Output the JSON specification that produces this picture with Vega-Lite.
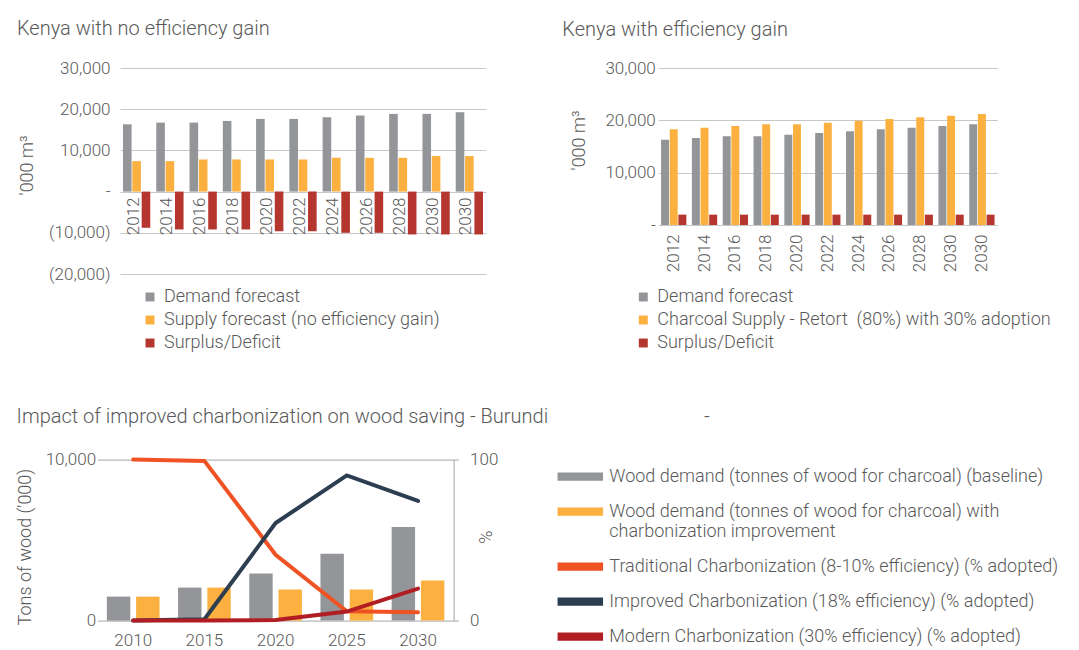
{
  "$schema": "https://vega.github.io/schema/vega-lite/v6.json",
  "background": "white",
  "padding": {"left": 16, "top": 19, "right": 5, "bottom": 5},
  "config": {
    "font": "Roboto",
    "view": {"stroke": null},
    "axis": {"labelFontSize": 17, "labelColor": "#595959", "labelFontWeight": 300, "titleColor": "#595959", "titleFontWeight": 300, "titleFontSize": 18, "gridColor": "#C8C8C8", "domainColor": "#A6A6A6", "tickColor": "#A6A6A6"},
    "legend": {"labelFontSize": 18, "labelColor": "#595959", "labelFontWeight": 300, "labelLimit": 600, "padding": 0},
    "title": {"fontSize": 20, "fontWeight": 300, "color": "#595959", "anchor": "start", "frame": "group", "baseline": "alphabetic"}
  },
  "datasets": {
    "kenyaNo": [
      {"year": "2012", "seriesA": "Demand forecast", "value": 16340},
      {"year": "2012", "seriesA": "Supply forecast (no efficiency gain)", "value": 7400},
      {"year": "2012", "seriesA": "Surplus/Deficit", "value": -8780},
      {"year": "2014", "seriesA": "Demand forecast", "value": 16750},
      {"year": "2014", "seriesA": "Supply forecast (no efficiency gain)", "value": 7400},
      {"year": "2014", "seriesA": "Surplus/Deficit", "value": -9190},
      {"year": "2016", "seriesA": "Demand forecast", "value": 16750},
      {"year": "2016", "seriesA": "Supply forecast (no efficiency gain)", "value": 7800},
      {"year": "2016", "seriesA": "Surplus/Deficit", "value": -9190},
      {"year": "2018", "seriesA": "Demand forecast", "value": 17150},
      {"year": "2018", "seriesA": "Supply forecast (no efficiency gain)", "value": 7800},
      {"year": "2018", "seriesA": "Surplus/Deficit", "value": -9190},
      {"year": "2020", "seriesA": "Demand forecast", "value": 17640},
      {"year": "2020", "seriesA": "Supply forecast (no efficiency gain)", "value": 7800},
      {"year": "2020", "seriesA": "Surplus/Deficit", "value": -9600},
      {"year": "2022", "seriesA": "Demand forecast", "value": 17640},
      {"year": "2022", "seriesA": "Supply forecast (no efficiency gain)", "value": 7800},
      {"year": "2022", "seriesA": "Surplus/Deficit", "value": -9600},
      {"year": "2024", "seriesA": "Demand forecast", "value": 18050},
      {"year": "2024", "seriesA": "Supply forecast (no efficiency gain)", "value": 8200},
      {"year": "2024", "seriesA": "Surplus/Deficit", "value": -10000},
      {"year": "2026", "seriesA": "Demand forecast", "value": 18450},
      {"year": "2026", "seriesA": "Supply forecast (no efficiency gain)", "value": 8200},
      {"year": "2026", "seriesA": "Surplus/Deficit", "value": -10000},
      {"year": "2028", "seriesA": "Demand forecast", "value": 18860},
      {"year": "2028", "seriesA": "Supply forecast (no efficiency gain)", "value": 8200},
      {"year": "2028", "seriesA": "Surplus/Deficit", "value": -10400},
      {"year": "2030", "seriesA": "Demand forecast", "value": 18860},
      {"year": "2030", "seriesA": "Supply forecast (no efficiency gain)", "value": 8620},
      {"year": "2030", "seriesA": "Surplus/Deficit", "value": -10400},
      {"year": "2030b", "seriesA": "Demand forecast", "value": 19270},
      {"year": "2030b", "seriesA": "Supply forecast (no efficiency gain)", "value": 8620},
      {"year": "2030b", "seriesA": "Surplus/Deficit", "value": -10400}
    ],
    "kenyaEff": [
      {"year": "2012", "seriesB": "Demand forecast", "value": 16300},
      {"year": "2012", "seriesB": "Charcoal Supply - Retort  (80%) with 30% adoption", "value": 18280},
      {"year": "2012", "seriesB": "Surplus/Deficit", "value": 1980},
      {"year": "2014", "seriesB": "Demand forecast", "value": 16620},
      {"year": "2014", "seriesB": "Charcoal Supply - Retort  (80%) with 30% adoption", "value": 18600},
      {"year": "2014", "seriesB": "Surplus/Deficit", "value": 1980},
      {"year": "2016", "seriesB": "Demand forecast", "value": 16940},
      {"year": "2016", "seriesB": "Charcoal Supply - Retort  (80%) with 30% adoption", "value": 18920},
      {"year": "2016", "seriesB": "Surplus/Deficit", "value": 1980},
      {"year": "2018", "seriesB": "Demand forecast", "value": 16940},
      {"year": "2018", "seriesB": "Charcoal Supply - Retort  (80%) with 30% adoption", "value": 19240},
      {"year": "2018", "seriesB": "Surplus/Deficit", "value": 1980},
      {"year": "2020", "seriesB": "Demand forecast", "value": 17260},
      {"year": "2020", "seriesB": "Charcoal Supply - Retort  (80%) with 30% adoption", "value": 19240},
      {"year": "2020", "seriesB": "Surplus/Deficit", "value": 1980},
      {"year": "2022", "seriesB": "Demand forecast", "value": 17580},
      {"year": "2022", "seriesB": "Charcoal Supply - Retort  (80%) with 30% adoption", "value": 19550},
      {"year": "2022", "seriesB": "Surplus/Deficit", "value": 1980},
      {"year": "2024", "seriesB": "Demand forecast", "value": 17900},
      {"year": "2024", "seriesB": "Charcoal Supply - Retort  (80%) with 30% adoption", "value": 19940},
      {"year": "2024", "seriesB": "Surplus/Deficit", "value": 1980},
      {"year": "2026", "seriesB": "Demand forecast", "value": 18280},
      {"year": "2026", "seriesB": "Charcoal Supply - Retort  (80%) with 30% adoption", "value": 20250},
      {"year": "2026", "seriesB": "Surplus/Deficit", "value": 1980},
      {"year": "2028", "seriesB": "Demand forecast", "value": 18600},
      {"year": "2028", "seriesB": "Charcoal Supply - Retort  (80%) with 30% adoption", "value": 20570},
      {"year": "2028", "seriesB": "Surplus/Deficit", "value": 1980},
      {"year": "2030", "seriesB": "Demand forecast", "value": 18920},
      {"year": "2030", "seriesB": "Charcoal Supply - Retort  (80%) with 30% adoption", "value": 20890},
      {"year": "2030", "seriesB": "Surplus/Deficit", "value": 1980},
      {"year": "2030b", "seriesB": "Demand forecast", "value": 19240},
      {"year": "2030b", "seriesB": "Charcoal Supply - Retort  (80%) with 30% adoption", "value": 21210},
      {"year": "2030b", "seriesB": "Surplus/Deficit", "value": 1980}
    ],
    "burundiBars": [
      {"year": "2010", "seriesC": "Wood demand (tonnes of wood for charcoal) (baseline)", "tons": 1490},
      {"year": "2010", "seriesC": "Wood demand (tonnes of wood for charcoal) with charbonization improvement", "tons": 1490},
      {"year": "2015", "seriesC": "Wood demand (tonnes of wood for charcoal) (baseline)", "tons": 2050},
      {"year": "2015", "seriesC": "Wood demand (tonnes of wood for charcoal) with charbonization improvement", "tons": 2050},
      {"year": "2020", "seriesC": "Wood demand (tonnes of wood for charcoal) (baseline)", "tons": 2925},
      {"year": "2020", "seriesC": "Wood demand (tonnes of wood for charcoal) with charbonization improvement", "tons": 1930},
      {"year": "2025", "seriesC": "Wood demand (tonnes of wood for charcoal) (baseline)", "tons": 4150},
      {"year": "2025", "seriesC": "Wood demand (tonnes of wood for charcoal) with charbonization improvement", "tons": 1930},
      {"year": "2030", "seriesC": "Wood demand (tonnes of wood for charcoal) (baseline)", "tons": 5810},
      {"year": "2030", "seriesC": "Wood demand (tonnes of wood for charcoal) with charbonization improvement", "tons": 2490}
    ],
    "burundiLines": [
      {"year": "2010", "seriesC": "Traditional Charbonization (8-10% efficiency) (% adopted)", "pct": 100},
      {"year": "2015", "seriesC": "Traditional Charbonization (8-10% efficiency) (% adopted)", "pct": 99.2},
      {"year": "2020", "seriesC": "Traditional Charbonization (8-10% efficiency) (% adopted)", "pct": 40.9},
      {"year": "2025", "seriesC": "Traditional Charbonization (8-10% efficiency) (% adopted)", "pct": 5.8},
      {"year": "2030", "seriesC": "Traditional Charbonization (8-10% efficiency) (% adopted)", "pct": 5.2},
      {"year": "2010", "seriesC": "Improved Charbonization (18% efficiency) (% adopted)", "pct": 0},
      {"year": "2015", "seriesC": "Improved Charbonization (18% efficiency) (% adopted)", "pct": 0.8},
      {"year": "2020", "seriesC": "Improved Charbonization (18% efficiency) (% adopted)", "pct": 60.6},
      {"year": "2025", "seriesC": "Improved Charbonization (18% efficiency) (% adopted)", "pct": 90.2},
      {"year": "2030", "seriesC": "Improved Charbonization (18% efficiency) (% adopted)", "pct": 74.3},
      {"year": "2010", "seriesC": "Modern Charbonization (30% efficiency) (% adopted)", "pct": 0},
      {"year": "2015", "seriesC": "Modern Charbonization (30% efficiency) (% adopted)", "pct": 0},
      {"year": "2020", "seriesC": "Modern Charbonization (30% efficiency) (% adopted)", "pct": 0.4},
      {"year": "2025", "seriesC": "Modern Charbonization (30% efficiency) (% adopted)", "pct": 5.6},
      {"year": "2030", "seriesC": "Modern Charbonization (30% efficiency) (% adopted)", "pct": 19.9}
    ]
  },
  "columns": 2,
  "bounds": "flush",
  "spacing": {"row": 185.6, "column": 172.3},
  "resolve": {"scale": {"color": "independent", "xOffset": "independent", "x": "independent", "y": "independent"}, "legend": {"color": "independent"}},
  "concat": [
    {
      "width": 366,
      "height": 206,
      "title": {"text": "Kenya with no efficiency gain", "dx": -103, "offset": 20},
      "data": {"name": "kenyaNo"},
      "mark": {"type": "bar"},
      "encoding": {
        "x": {"field": "year", "type": "nominal", "sort": null,
          "scale": {"paddingInner": 0.18, "paddingOuter": 0.09},
          "axis": {"title": null, "offset": -82, "domain": false, "ticks": false, "labelAngle": -90, "labelAlign": "right", "labelBaseline": "middle", "labelPadding": 5, "labelOffset": -3, "labelExpr": "substring(datum.label, 0, 4)"}},
        "xOffset": {"field": "seriesA", "type": "nominal", "sort": ["Demand forecast", "Supply forecast (no efficiency gain)", "Surplus/Deficit"], "scale": {"paddingInner": 0.08}},
        "y": {"field": "value", "type": "quantitative",
          "scale": {"domain": [-20000, 30000], "nice": false},
          "axis": {"title": "'000 m³", "values": [-20000, -10000, 0, 10000, 20000, 30000], "labelExpr": "datum.value == 0 ? '-\u00a0\u00a0\u00a0' : datum.value < 0 ? '(' + format(-datum.value, ',') + ')' : format(datum.value, ',') + '\u00a0'", "domain": false, "ticks": false, "grid": true, "labelPadding": 10, "titleAngle": -90, "titleX": -88, "titleY": 97, "titleAlign": "center", "titleBaseline": "alphabetic"}},
        "color": {"field": "seriesA", "type": "nominal",
          "scale": {"domain": ["Demand forecast", "Supply forecast (no efficiency gain)", "Surplus/Deficit"], "range": ["#939598", "#FBB040", "#B5352F"]},
          "legend": {"title": null, "orient": "none", "legendX": 21, "legendY": 220, "symbolType": "square", "symbolSize": 80, "labelOffset": 5, "rowPadding": 5}}
      }
    },
    {
      "width": 339,
      "height": 157,
      "title": {"text": "Kenya with efficiency gain", "dx": -96, "offset": 19},
      "data": {"name": "kenyaEff"},
      "mark": {"type": "bar"},
      "encoding": {
        "x": {"field": "year", "type": "nominal", "sort": null,
          "scale": {"paddingInner": 0.18, "paddingOuter": 0.09},
          "axis": {"title": null, "domain": false, "ticks": false, "labelAngle": -90, "labelAlign": "right", "labelBaseline": "middle", "labelPadding": 9, "labelExpr": "substring(datum.label, 0, 4)"}},
        "xOffset": {"field": "seriesB", "type": "nominal", "sort": ["Demand forecast", "Charcoal Supply - Retort  (80%) with 30% adoption", "Surplus/Deficit"], "scale": {"paddingInner": 0.08}},
        "y": {"field": "value", "type": "quantitative",
          "scale": {"domain": [0, 30000], "nice": false},
          "axis": {"title": "'000 m³", "values": [0, 10000, 20000, 30000], "labelExpr": "datum.value == 0 ? '-\u00a0\u00a0\u00a0' : format(datum.value, ',') + '\u00a0'", "domain": false, "ticks": false, "grid": true, "labelPadding": 3, "titleAngle": -90, "titleX": -74, "titleY": 72, "titleAlign": "center", "titleBaseline": "alphabetic"}},
        "color": {"field": "seriesB", "type": "nominal",
          "scale": {"domain": ["Demand forecast", "Charcoal Supply - Retort  (80%) with 30% adoption", "Surplus/Deficit"], "range": ["#939598", "#FBB040", "#B5352F"]},
          "legend": {"title": null, "orient": "none", "legendX": -24, "legendY": 220, "symbolType": "square", "symbolSize": 80, "labelOffset": 5, "rowPadding": 5, "labelExpr": "replace(datum.label, 'Retort  (', 'Retort\u00a0 (')"}}
      }
    },
    {
      "width": 333.6,
      "height": 161,
      "title": {"text": "Impact of improved charbonization on wood saving - Burundi\u00a0\u00a0\u00a0\u00a0\u00a0\u00a0\u00a0\u00a0\u00a0\u00a0\u00a0\u00a0\u00a0\u00a0\u00a0\u00a0\u00a0\u00a0\u00a0\u00a0\u00a0\u00a0\u00a0\u00a0\u00a0\u00a0\u00a0\u00a0\u00a0\u00a0\u00a0\u00a0-", "dx": -103.4, "offset": 24},
      "layer": [
        {
          "data": {"name": "burundiBars"},
          "mark": {"type": "bar"},
          "encoding": {
            "x": {"field": "year", "type": "nominal", "sort": null,
              "scale": {"paddingInner": 0.26, "paddingOuter": 0.13, "range": [-22.4, 333.6]},
              "axis": {"title": null, "orient": "bottom", "domain": true, "ticks": false, "labelAngle": 0, "labelPadding": 12}},
            "xOffset": {"field": "seriesC", "type": "nominal", "sort": ["Wood demand (tonnes of wood for charcoal) (baseline)", "Wood demand (tonnes of wood for charcoal) with charbonization improvement"], "scale": {"paddingInner": 0.2}},
            "y": {"field": "tons", "type": "quantitative",
              "scale": {"domain": [0, 10000], "nice": false},
              "axis": {"title": "Tons of wood ('000)", "values": [0, 10000], "labelExpr": "datum.value == 0 ? '0\u00a0\u00a0\u00a0' : format(datum.value, ',') + '\u00a0'", "domain": false, "ticks": false, "grid": false, "labelPadding": 24.4, "titleAngle": -90, "titleX": -89.2, "titleY": 87, "titleAlign": "center", "titleBaseline": "alphabetic"}},
            "color": {"field": "seriesC", "type": "nominal",
              "scale": {"domain": ["Wood demand (tonnes of wood for charcoal) (baseline)", "Wood demand (tonnes of wood for charcoal) with charbonization improvement", "Traditional Charbonization (8-10% efficiency) (% adopted)", "Improved Charbonization (18% efficiency) (% adopted)", "Modern Charbonization (30% efficiency) (% adopted)"], "range": ["#939598", "#FBB040", "#F05323", "#2C3E50", "#B01E24"]},
              "legend": {"title": null, "orient": "none", "legendX": 437.3, "legendY": -6, "symbolType": "M-1,-0.15H1V0.15H-1Z", "symbolSize": 1936, "labelOffset": 6, "rowPadding": 3, "labelExpr": "datum.label == 'Wood demand (tonnes of wood for charcoal) with charbonization improvement' ? ['Wood demand (tonnes of wood for charcoal) with', 'charbonization improvement'] : datum.label"}}
          }
        },
        {
          "data": {"name": "burundiLines"},
          "mark": {"type": "line", "strokeWidth": 4, "strokeCap": "round"},
          "encoding": {
            "x": {"field": "year", "type": "nominal", "sort": null,
              "axis": {"title": null, "orient": "top", "domain": true, "ticks": false, "labels": false}},
            "y": {"field": "pct", "type": "quantitative",
              "scale": {"domain": [0, 100], "nice": false},
              "axis": {"title": "%", "orient": "right", "values": [0, 100], "domain": true, "ticks": true, "tickSize": 5, "grid": false, "labelPadding": 11, "titleAngle": -90, "titleX": 37.7, "titleY": 77, "titleAlign": "center", "titleBaseline": "alphabetic"}},
            "color": {"field": "seriesC", "type": "nominal",
              "scale": {"domain": ["Wood demand (tonnes of wood for charcoal) (baseline)", "Wood demand (tonnes of wood for charcoal) with charbonization improvement", "Traditional Charbonization (8-10% efficiency) (% adopted)", "Improved Charbonization (18% efficiency) (% adopted)", "Modern Charbonization (30% efficiency) (% adopted)"], "range": ["#939598", "#FBB040", "#F05323", "#2C3E50", "#B01E24"]},
              "legend": {"title": null, "orient": "none", "legendX": 437.3, "legendY": -6, "symbolType": "M-1,-0.15H1V0.15H-1Z", "symbolSize": 1936, "labelOffset": 6, "rowPadding": 3, "labelExpr": "datum.label == 'Wood demand (tonnes of wood for charcoal) with charbonization improvement' ? ['Wood demand (tonnes of wood for charcoal) with', 'charbonization improvement'] : datum.label"}}
          }
        }
      ],
      "resolve": {"scale": {"y": "independent"}, "axis": {"x": "independent"}}
    }
  ]
}
